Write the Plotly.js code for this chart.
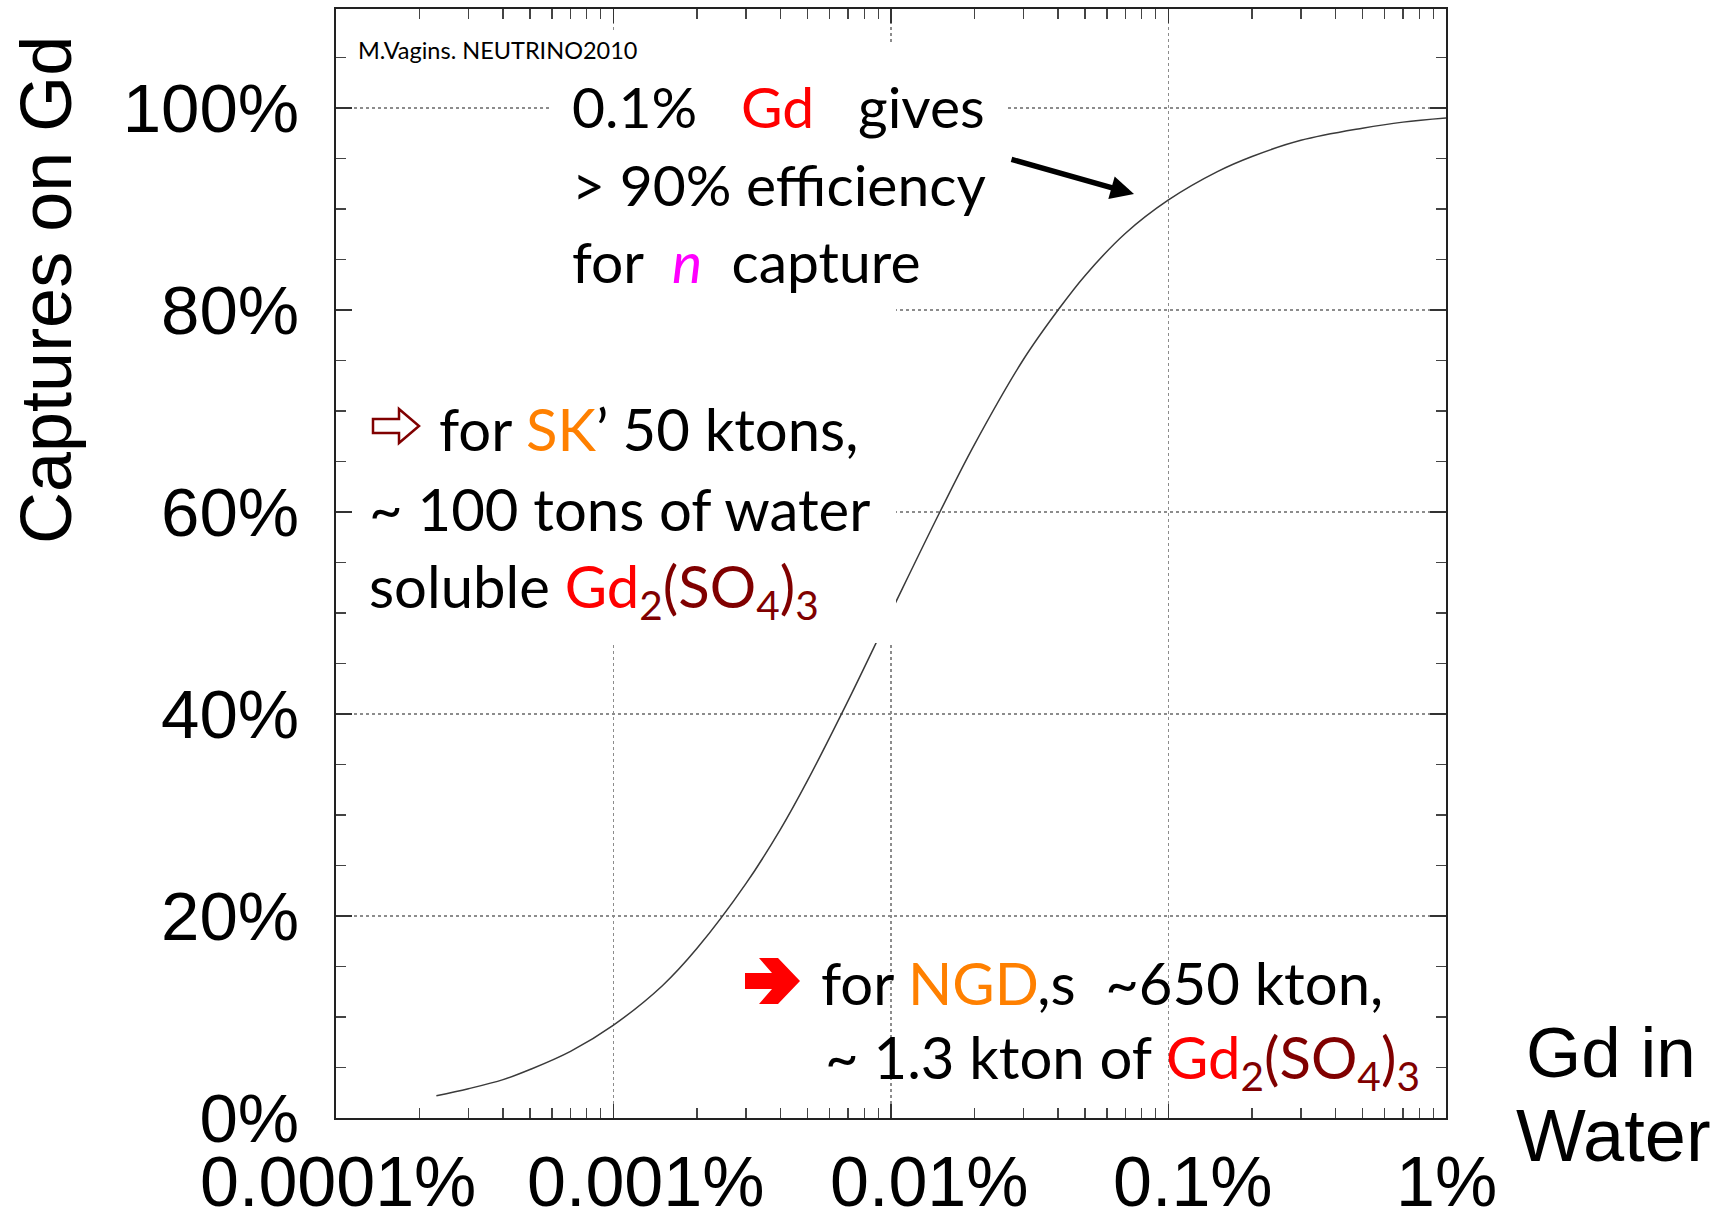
<!DOCTYPE html>
<html>
<head>
<meta charset="utf-8">
<script src="https://cdn.plot.ly/plotly-3.0.1.min.js"></script>
<style>
  html, body { margin: 0; padding: 0; background: #fff; }
  #chart { width: 1728px; height: 1223px; }
</style>
</head>
<body>
<div id="chart"></div>
<script>
// Gd concentration in water (% by mass) and share of neutron captures on Gd (%)
const gdConcentration = [0.00023, 0.0003, 0.0004, 0.0005, 0.0007, 0.001, 0.0015, 0.002, 0.003, 0.004,
                         0.005, 0.007, 0.01, 0.015, 0.02, 0.03, 0.04, 0.05, 0.07, 0.1,
                         0.15, 0.2, 0.3, 0.5, 0.7, 1.0];
const capturesOnGd = [2.2, 2.9, 3.8, 4.8, 6.6, 9.2, 13.1, 16.8, 23.2, 28.6,
                      33.4, 41.3, 50.1, 60.0, 66.7, 75.1, 80.0, 83.4, 87.6, 90.9,
                      93.7, 95.2, 96.8, 98.0, 98.6, 99.0];

const xTickValues = [0.0001, 0.001, 0.01, 0.1, 1];
const xTickLabels = ['0.0001%', '0.001%', '0.01%', '0.1%', '1%'];
const yTickValues = [0, 20, 40, 60, 80, 100];
const yTickLabels = ['0%', '20%', '40%', '60%', '80%', '100%'];

// plot frame in page pixels, used to place the free text
const plotL = 336, plotR = 1446, plotT = 9, plotB = 1118;
const px = v => (v - plotL) / (plotR - plotL);
const py = v => (plotB - v) / (plotB - plotT);

const calibri = 'Lato, Carlito, sans-serif';
const arial = '"Liberation Sans", Arial, sans-serif';
const RED = '#ff0000', MAROON = '#800000', ORANGE = '#ff8000', MAGENTA = '#ff00ff';
const sp = n => '\u00a0'.repeat(n);
const gdSulfate = `<span style="color:${RED}">Gd</span><span style="color:${MAROON}"><sub>2</sub>(SO<sub>4</sub>)<sub>3</sub></span>`;

const trace = {
  x: gdConcentration,
  y: capturesOnGd,
  type: 'scatter',
  mode: 'lines',
  line: { color: '#3a3a3a', width: 1.5, shape: 'spline', smoothing: 1 },
  hoverinfo: 'skip'
};

function textLine(text, x, y, size, opts) {
  return Object.assign({
    text: text, xref: 'paper', yref: 'paper', x: px(x), y: py(y),
    xanchor: 'left', yanchor: 'middle', showarrow: false,
    font: { family: calibri, size: size, color: '#000' }
  }, opts || {});
}

const annotations = [
  textLine('M.Vagins. NEUTRINO2010', 356, 50, 23.5),

  textLine(`0.1%${sp(3)}<span style="color:${RED}">Gd</span>${sp(3)}gives`, 570, 106, 57),
  textLine('>\u00a090% efficiency', 570, 184, 57),
  textLine(`for${sp(2)}<span style="color:${MAGENTA};font-style:italic">n</span>${sp(2)}capture`, 570, 261, 57),

  textLine(`for <span style="color:${ORANGE}">SK</span>\u2019 50 ktons,`, 437, 428, 58),
  textLine('~ 100 tons of water', 367, 508, 58),
  textLine(`soluble ${gdSulfate}`, 367, 590, 58),

  textLine(`for <span style="color:${ORANGE}">NGD</span>,s${sp(2)}~650 kton,`, 819, 982, 58),
  textLine(`~ 1.3 kton of ${gdSulfate}`, 823, 1061, 58),

  // pointer to the curve at 0.1 % Gd
  { xref: 'paper', yref: 'paper', x: px(1134), y: py(194), text: '', showarrow: true,
    ax: -124, ay: -35, arrowhead: 2, arrowsize: 0.85, arrowwidth: 5.5, arrowcolor: '#000' },

  // axis titles
  { text: 'Captures on Gd', xref: 'paper', yref: 'paper', x: px(46), y: py(290),
    xanchor: 'center', yanchor: 'middle', textangle: -90, showarrow: false,
    font: { family: arial, size: 72, color: '#000' } },
  { text: 'Gd in', xref: 'paper', yref: 'paper', x: px(1611), y: py(1052),
    xanchor: 'center', yanchor: 'middle', showarrow: false,
    font: { family: arial, size: 71, color: '#000' } },
  { text: 'Water', xref: 'paper', yref: 'paper', x: px(1613), y: py(1135),
    xanchor: 'center', yanchor: 'middle', showarrow: false,
    font: { family: arial, size: 74, color: '#000' } }
];

// x tick labels, set slightly off their ticks
const xLabelShift = [2, 32, 38, 24, 0];
xTickValues.forEach((v, i) => {
  annotations.push({
    text: xTickLabels[i], xref: 'x', yref: 'paper', x: Math.log10(v), y: py(1182),
    xanchor: 'center', yanchor: 'middle', xshift: xLabelShift[i], showarrow: false,
    font: { family: arial, size: 70, color: '#000' }
  });
});

// paper-space helpers for the white panels and the two arrow glyphs
const panel = (x0, y0, x1, y1) => ({
  type: 'rect', xref: 'paper', yref: 'paper', layer: 'above',
  x0: px(x0), x1: px(x1), y0: py(y1), y1: py(y0),
  fillcolor: '#ffffff', line: { width: 0 }
});
const polyPath = pts => 'M ' + pts.map(p => px(p[0]) + ',' + py(p[1])).join(' L ') + ' Z';

const shapes = [
  panel(352, 33, 640, 68),
  panel(551, 45, 1008, 300),
  panel(352, 292, 896, 643),
  // hollow arrow before "for SK'"
  { type: 'path', xref: 'paper', yref: 'paper', layer: 'above',
    path: polyPath([[373, 419], [399, 419], [399, 409], [419, 426], [399, 443], [399, 433], [373, 433]]),
    fillcolor: '#ffffff', line: { color: MAROON, width: 2.5 } },
  // solid red arrow before "for NGD"
  { type: 'path', xref: 'paper', yref: 'paper', layer: 'above',
    path: polyPath([[745, 973], [772, 973], [759, 958], [778, 958], [800, 981], [778, 1004], [759, 1004], [772, 989], [745, 989]]),
    fillcolor: RED, line: { width: 0 } }
];

const layout = {
  width: 1728,
  height: 1223,
  margin: { l: plotL, r: 1728 - plotR, t: plotT, b: 1223 - plotB, pad: 0 },
  paper_bgcolor: '#ffffff',
  plot_bgcolor: '#ffffff',
  showlegend: false,
  xaxis: {
    type: 'log',
    range: [-4, 0],
    tickmode: 'array',
    tickvals: xTickValues,
    showticklabels: false,
    ticks: 'inside',
    ticklen: 14,
    tickwidth: 1.5,
    tickcolor: '#333',
    showgrid: true,
    gridcolor: '#8c8c8c',
    gridwidth: 1.5,
    griddash: 'dot',
    zeroline: false,
    showline: true,
    linecolor: '#222',
    linewidth: 2,
    mirror: 'allticks',
    minor: { dtick: 'D1', ticks: 'inside', ticklen: 10, tickwidth: 1.2, tickcolor: '#444', showgrid: false }
  },
  yaxis: {
    range: [0, 109.8],
    tickmode: 'array',
    tickvals: yTickValues,
    ticktext: yTickLabels,
    tickfont: { family: arial, size: 69, color: '#000' },
    ticklabelstandoff: 21,
    ticks: 'inside',
    ticklen: 16,
    tickwidth: 1.5,
    tickcolor: '#333',
    showgrid: true,
    gridcolor: '#8c8c8c',
    gridwidth: 1.5,
    griddash: 'dot',
    zeroline: false,
    showline: true,
    linecolor: '#222',
    linewidth: 2,
    mirror: 'allticks',
    minor: { dtick: 5, ticks: 'inside', ticklen: 10, tickwidth: 1.2, tickcolor: '#444', showgrid: false }
  },
  annotations: annotations,
  shapes: shapes
};

Plotly.newPlot('chart', [trace], layout, { displayModeBar: false, staticPlot: true });
</script>
</body>
</html>
